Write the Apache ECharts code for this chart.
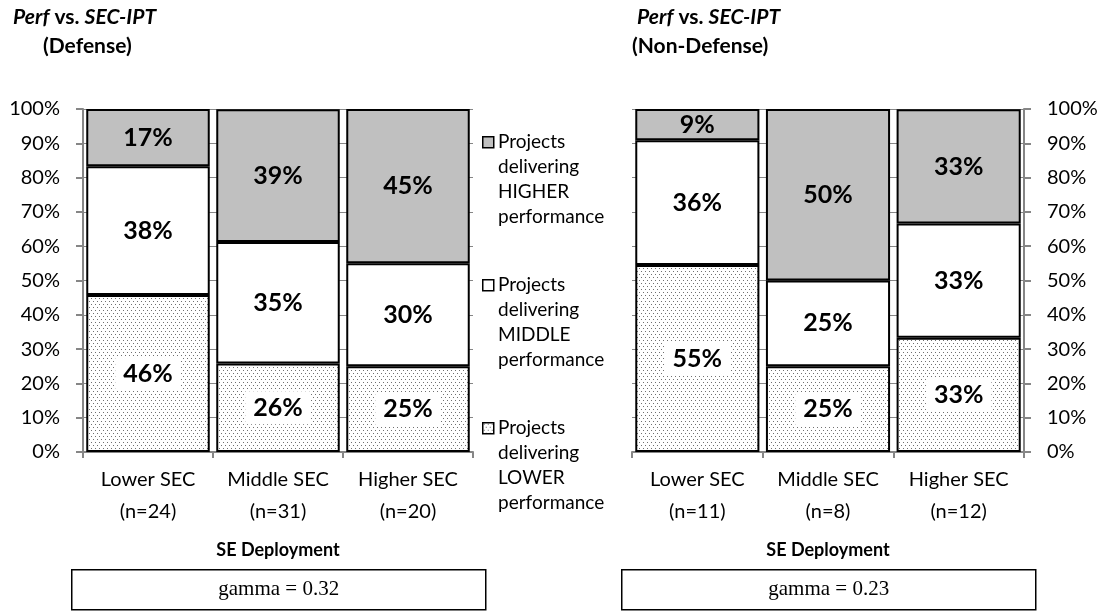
<!DOCTYPE html>
<html>
<head>
<meta charset="utf-8">
<script src="https://cdn.jsdelivr.net/npm/echarts@6/dist/echarts.min.js"></script>
<style>
  html, body { margin: 0; padding: 0; background: #fff; }
  #chart { width: 1107px; height: 611px; }
</style>
</head>
<body>
<div id="chart"></div>
<script>
// data (share of projects, %)
var categoriesDef = ['Lower SEC\n(n=24)', 'Middle SEC\n(n=31)', 'Higher SEC\n(n=20)'];
var categoriesNon = ['Lower SEC\n(n=11)', 'Middle SEC\n(n=8)', 'Higher SEC\n(n=12)'];

var defLower = [45.8, 25.8, 25.0];
var defMiddle = [37.5, 35.4, 30.0];
var defHigher = [16.7, 38.7, 45.0];

var nonLower = [54.5, 25.0, 33.3];
var nonMiddle = [36.4, 25.0, 33.3];
var nonHigher = [9.1, 50.0, 33.3];

var yTicks = [0, 10, 20, 30, 40, 50, 60, 70, 80, 90, 100];
var gammas = ['gamma = 0.32', 'gamma = 0.23'];
var legendNames = ['Projects\ndelivering\nHIGHER\nperformance',
                   'Projects\ndelivering\nMIDDLE\nperformance',
                   'Projects\ndelivering\nLOWER\nperformance'];

var FONT = 'Lato, "Noto Sans", sans-serif';
var AXIS_GREY = '#868686';

// dotted fill used for the "LOWER" segments
var dots = document.createElement('canvas');
dots.width = 4; dots.height = 6;
var dctx = dots.getContext('2d');
dctx.fillStyle = '#ffffff';
dctx.fillRect(0, 0, 4, 6);
dctx.fillStyle = '#707070';
dctx.fillRect(1, 1, 1, 1);
dctx.fillRect(3, 4, 1, 1);
var dotFill = { image: dots, repeat: 'repeat' };

var fills = ['#c0c0c0', '#ffffff', dotFill];

function pct(p) { return Math.round(p.value) + '%'; }

function barSeries(name, data, idx, fill, withBg) {
    return {
        name: name,
        type: 'bar',
        stack: 'perf' + idx,
        xAxisIndex: idx,
        yAxisIndex: idx,
        data: data,
        barCategoryGap: '5%',
        itemStyle: { color: fill, borderColor: '#000', borderWidth: 2 },
        label: {
            show: true,
            position: 'inside',
            formatter: pct,
            color: '#000',
            fontFamily: FONT,
            fontWeight: 'bold',
            fontSize: 25,
            backgroundColor: withBg ? '#fff' : 'transparent',
            padding: withBg ? [4, 8] : 0
        }
    };
}

function xAxis(idx, cats) {
    return {
        type: 'category',
        gridIndex: idx,
        data: cats,
        axisLine: { lineStyle: { color: AXIS_GREY, width: 2 } },
        axisTick: { show: true, length: 6, lineStyle: { color: AXIS_GREY, width: 2 } },
        axisLabel: { interval: 0, color: '#000', fontFamily: FONT, fontSize: 20, lineHeight: 32, margin: 12 },
        name: 'SE Deployment',
        nameLocation: 'middle',
        nameGap: 89,
        nameTextStyle: { color: '#000', fontFamily: FONT, fontWeight: 'bold', fontSize: 18 }
    };
}

function yAxis(idx, pos) {
    return {
        type: 'value',
        gridIndex: idx,
        position: pos,
        min: yTicks[0],
        max: yTicks[yTicks.length - 1],
        interval: yTicks[1] - yTicks[0],
        axisLine: { show: true, lineStyle: { color: AXIS_GREY, width: 2 } },
        axisTick: { show: true, length: 7, lineStyle: { color: AXIS_GREY, width: 2 } },
        axisLabel: { color: '#000', fontFamily: FONT, fontSize: 20, margin: 23, formatter: '{value}%' },
        splitLine: { show: true, lineStyle: { color: AXIS_GREY, width: 1 } }
    };
}

var titleRich = { i: { fontStyle: 'italic', fontWeight: 'bold', fontSize: 21, fontFamily: FONT, color: '#000' } };

function titleLine(text, left, top) {
    return {
        text: text, left: left, top: top, padding: 0,
        textStyle: { fontFamily: FONT, fontWeight: 'bold', fontSize: 21, color: '#000', rich: titleRich }
    };
}

// legend drawn beside the left panel
var legendGraphics = [];
var legendTops = [136, 279, 422];
legendNames.forEach(function (name, i) {
    legendGraphics.push({
        type: 'rect', left: 482, top: legendTops[i],
        shape: { width: 11, height: 11 },
        style: { fill: fills[i], stroke: '#000', lineWidth: 1.5 }
    });
    legendGraphics.push({
        type: 'text', left: 498, top: legendTops[i] - 7,
        style: { text: name, fill: '#000', font: '19px ' + FONT, lineHeight: 25 }
    });
});

function gammaBox(text, left, width) {
    return {
        type: 'group', left: left, top: 569,
        children: [
            { type: 'rect', shape: { x: 0, y: 0, width: width, height: 40 },
              style: { fill: '#fff', stroke: '#000', lineWidth: 1.5 } },
            { type: 'text', x: width / 2, y: 20,
              style: { text: text, fill: '#000', font: '21px "Liberation Serif", serif',
                       align: 'center', verticalAlign: 'middle' } }
        ]
    };
}

var chart = echarts.init(document.getElementById('chart'));
chart.setOption({
    backgroundColor: '#fff',
    animation: false,
    title: [
        titleLine('{i|Perf} vs. {i|SEC-IPT}', 13, 7),
        titleLine('(Defense)', 43, 36),
        titleLine('{i|Perf} vs. {i|SEC-IPT}', 637, 7),
        titleLine('(Non-Defense)', 632, 36)
    ],
    grid: [
        { left: 83, top: 109, width: 390, height: 343 },
        { left: 632, top: 109, width: 392, height: 343 }
    ],
    xAxis: [xAxis(0, categoriesDef), xAxis(1, categoriesNon)],
    yAxis: [yAxis(0, 'left'), yAxis(1, 'right')],
    series: [
        barSeries('LOWER', defLower, 0, fills[2], true),
        barSeries('MIDDLE', defMiddle, 0, fills[1], false),
        barSeries('HIGHER', defHigher, 0, fills[0], false),
        barSeries('LOWER', nonLower, 1, fills[2], true),
        barSeries('MIDDLE', nonMiddle, 1, fills[1], false),
        barSeries('HIGHER', nonHigher, 1, fills[0], false)
    ],
    graphic: legendGraphics.concat([
        gammaBox(gammas[0], 71, 414),
        gammaBox(gammas[1], 621, 414)
    ])
});
</script>
</body>
</html>
